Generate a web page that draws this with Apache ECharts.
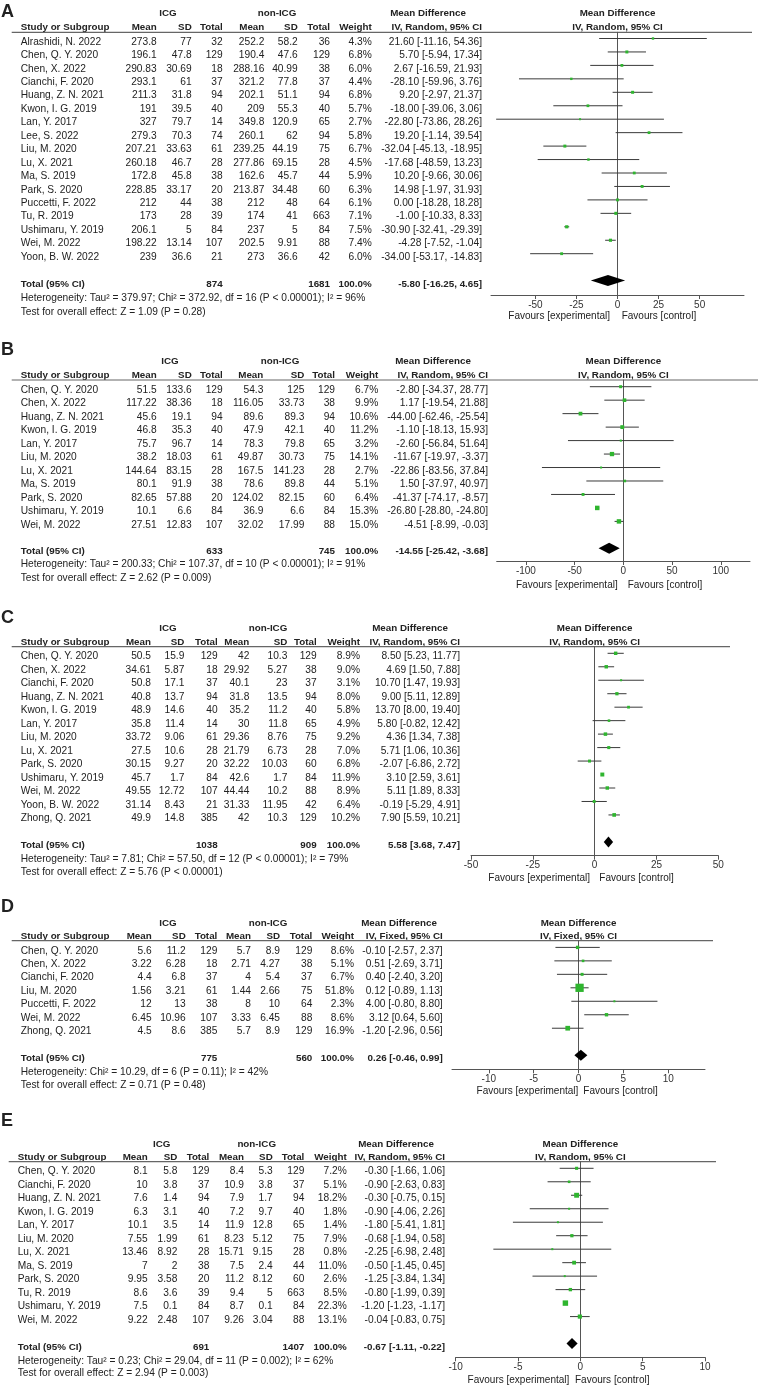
<!DOCTYPE html>
<html>
<head>
<meta charset="utf-8">
<script src="https://cdn.jsdelivr.net/npm/echarts@6/dist/echarts.min.js"></script>
<style>
  html, body { margin: 0; padding: 0; background: #fff; }
  #chart { width: 760px; height: 1386px; }
</style>
</head>
<body>
<div id="chart"></div>
<script>
// ---- A: operative time ----
const aStudy = ["Alrashidi, N. 2022", "Chen, Q. Y. 2020", "Chen, X. 2022", "Cianchi, F. 2020", "Huang, Z. N. 2021", "Kwon, I. G. 2019", "Lan, Y. 2017", "Lee, S. 2022", "Liu, M. 2020", "Lu, X. 2021", "Ma, S. 2019", "Park, S. 2020", "Puccetti, F. 2022", "Tu, R. 2019", "Ushimaru, Y. 2019", "Wei, M. 2022", "Yoon, B. W. 2022"];
const aIcg = [[273.8, 77, 32], [196.1, 47.8, 129], [290.83, 30.69, 18], [293.1, 61, 37], [211.3, 31.8, 94], [191, 39.5, 40], [327, 79.7, 14], [279.3, 70.3, 74], [207.21, 33.63, 61], [260.18, 46.7, 28], [172.8, 45.8, 38], [228.85, 33.17, 20], [212, 44, 38], [173, 28, 39], [206.1, 5, 84], [198.22, 13.14, 107], [239, 36.6, 21]];
const aCtl = [[252.2, 58.2, 36], [190.4, 47.6, 129], [288.16, 40.99, 38], [321.2, 77.8, 37], [202.1, 51.1, 94], [209, 55.3, 40], [349.8, 120.9, 65], [260.1, 62, 94], [239.25, 44.19, 75], [277.86, 69.15, 28], [162.6, 45.7, 44], [213.87, 34.48, 60], [212, 48, 64], [174, 41, 663], [237, 5, 84], [202.5, 9.91, 88], [273, 36.6, 42]];
const aWeight = [4.3, 6.8, 6.0, 4.4, 6.8, 5.7, 2.7, 5.8, 6.7, 4.5, 5.9, 6.3, 6.1, 7.1, 7.5, 7.4, 6.0];
const aMD = [[21.60, -11.16, 54.36], [5.70, -5.94, 17.34], [2.67, -16.59, 21.93], [-28.10, -59.96, 3.76], [9.20, -2.97, 21.37], [-18.00, -39.06, 3.06], [-22.80, -73.86, 28.26], [19.20, -1.14, 39.54], [-32.04, -45.13, -18.95], [-17.68, -48.59, 13.23], [10.20, -9.66, 30.06], [14.98, -1.97, 31.93], [0.00, -18.28, 18.28], [-1.00, -10.33, 8.33], [-30.90, -32.41, -29.39], [-4.28, -7.52, -1.04], [-34.00, -53.17, -14.83]];
const aTotalN = [874, 1681];
const aTotalMD = [-5.80, -16.25, 4.65];
const aHet = "Heterogeneity: Tau² = 379.97; Chi² = 372.92, df = 16 (P < 0.00001); I² = 96%";
const aTest = "Test for overall effect: Z = 1.09 (P = 0.28)";
const aTicks = [-50, -25, 0, 25, 50];
const aRange = [-77, 77];

// ---- B ----
const bStudy = ["Chen, Q. Y. 2020", "Chen, X. 2022", "Huang, Z. N. 2021", "Kwon, I. G. 2019", "Lan, Y. 2017", "Liu, M. 2020", "Lu, X. 2021", "Ma, S. 2019", "Park, S. 2020", "Ushimaru, Y. 2019", "Wei, M. 2022"];
const bIcg = [[51.5, 133.6, 129], [117.22, 38.36, 18], [45.6, 19.1, 94], [46.8, 35.3, 40], [75.7, 96.7, 14], [38.2, 18.03, 61], [144.64, 83.15, 28], [80.1, 91.9, 38], [82.65, 57.88, 20], [10.1, 6.6, 84], [27.51, 12.83, 107]];
const bCtl = [[54.3, 125, 129], [116.05, 33.73, 38], [89.6, 89.3, 94], [47.9, 42.1, 40], [78.3, 79.8, 65], [49.87, 30.73, 75], [167.5, 141.23, 28], [78.6, 89.8, 44], [124.02, 82.15, 60], [36.9, 6.6, 84], [32.02, 17.99, 88]];
const bWeight = [6.7, 9.9, 10.6, 11.2, 3.2, 14.1, 2.7, 5.1, 6.4, 15.3, 15.0];
const bMD = [[-2.80, -34.37, 28.77], [1.17, -19.54, 21.88], [-44.00, -62.46, -25.54], [-1.10, -18.13, 15.93], [-2.60, -56.84, 51.64], [-11.67, -19.97, -3.37], [-22.86, -83.56, 37.84], [1.50, -37.97, 40.97], [-41.37, -74.17, -8.57], [-26.80, -28.80, -24.80], [-4.51, -8.99, -0.03]];
const bTotalN = [633, 745];
const bTotalMD = [-14.55, -25.42, -3.68];
const bHet = "Heterogeneity: Tau² = 200.33; Chi² = 107.37, df = 10 (P < 0.00001); I² = 91%";
const bTest = "Test for overall effect: Z = 2.62 (P = 0.009)";
const bTicks = [-100, -50, 0, 50, 100];
const bRange = [-130, 130];

// ---- C ----
const cStudy = ["Chen, Q. Y. 2020", "Chen, X. 2022", "Cianchi, F. 2020", "Huang, Z. N. 2021", "Kwon, I. G. 2019", "Lan, Y. 2017", "Liu, M. 2020", "Lu, X. 2021", "Park, S. 2020", "Ushimaru, Y. 2019", "Wei, M. 2022", "Yoon, B. W. 2022", "Zhong, Q. 2021"];
const cIcg = [[50.5, 15.9, 129], [34.61, 5.87, 18], [50.8, 17.1, 37], [40.8, 13.7, 94], [48.9, 14.6, 40], [35.8, 11.4, 14], [33.72, 9.06, 61], [27.5, 10.6, 28], [30.15, 9.27, 20], [45.7, 1.7, 84], [49.55, 12.72, 107], [31.14, 8.43, 21], [49.9, 14.8, 385]];
const cCtl = [[42, 10.3, 129], [29.92, 5.27, 38], [40.1, 23, 37], [31.8, 13.5, 94], [35.2, 11.2, 40], [30, 11.8, 65], [29.36, 8.76, 75], [21.79, 6.73, 28], [32.22, 10.03, 60], [42.6, 1.7, 84], [44.44, 10.2, 88], [31.33, 11.95, 42], [42, 10.3, 129]];
const cWeight = [8.9, 9.0, 3.1, 8.0, 5.8, 4.9, 9.2, 7.0, 6.8, 11.9, 8.9, 6.4, 10.2];
const cMD = [[8.50, 5.23, 11.77], [4.69, 1.50, 7.88], [10.70, 1.47, 19.93], [9.00, 5.11, 12.89], [13.70, 8.00, 19.40], [5.80, -0.82, 12.42], [4.36, 1.34, 7.38], [5.71, 1.06, 10.36], [-2.07, -6.86, 2.72], [3.10, 2.59, 3.61], [5.11, 1.89, 8.33], [-0.19, -5.29, 4.91], [7.90, 5.59, 10.21]];
const cTotalN = [1038, 909];
const cTotalMD = [5.58, 3.68, 7.47];
const cHet = "Heterogeneity: Tau² = 7.81; Chi² = 57.50, df = 12 (P < 0.00001); I² = 79%";
const cTest = "Test for overall effect: Z = 5.76 (P < 0.00001)";
const cTicks = [-50, -25, 0, 25, 50];
const cRange = [-50, 50];

// ---- D ----
const dStudy = ["Chen, Q. Y. 2020", "Chen, X. 2022", "Cianchi, F. 2020", "Liu, M. 2020", "Puccetti, F. 2022", "Wei, M. 2022", "Zhong, Q. 2021"];
const dIcg = [[5.6, 11.2, 129], [3.22, 6.28, 18], [4.4, 6.8, 37], [1.56, 3.21, 61], [12, 13, 38], [6.45, 10.96, 107], [4.5, 8.6, 385]];
const dCtl = [[5.7, 8.9, 129], [2.71, 4.27, 38], [4, 5.4, 37], [1.44, 2.66, 75], [8, 10, 64], [3.33, 6.45, 88], [5.7, 8.9, 129]];
const dWeight = [8.6, 5.1, 6.7, 51.8, 2.3, 8.6, 16.9];
const dMD = [[-0.10, -2.57, 2.37], [0.51, -2.69, 3.71], [0.40, -2.40, 3.20], [0.12, -0.89, 1.13], [4.00, -0.80, 8.80], [3.12, 0.64, 5.60], [-1.20, -2.96, 0.56]];
const dTotalN = [775, 560];
const dTotalMD = [0.26, -0.46, 0.99];
const dHet = "Heterogeneity: Chi² = 10.29, df = 6 (P = 0.11); I² = 42%";
const dTest = "Test for overall effect: Z = 0.71 (P = 0.48)";
const dTicks = [-10, -5, 0, 5, 10];
const dRange = [-14.1, 14.1];

// ---- E ----
const eStudy = ["Chen, Q. Y. 2020", "Cianchi, F. 2020", "Huang, Z. N. 2021", "Kwon, I. G. 2019", "Lan, Y. 2017", "Liu, M. 2020", "Lu, X. 2021", "Ma, S. 2019", "Park, S. 2020", "Tu, R. 2019", "Ushimaru, Y. 2019", "Wei, M. 2022"];
const eIcg = [[8.1, 5.8, 129], [10, 3.8, 37], [7.6, 1.4, 94], [6.3, 3.1, 40], [10.1, 3.5, 14], [7.55, 1.99, 61], [13.46, 8.92, 28], [7, 2, 38], [9.95, 3.58, 20], [8.6, 3.6, 39], [7.5, 0.1, 84], [9.22, 2.48, 107]];
const eCtl = [[8.4, 5.3, 129], [10.9, 3.8, 37], [7.9, 1.7, 94], [7.2, 9.7, 40], [11.9, 12.8, 65], [8.23, 5.12, 75], [15.71, 9.15, 28], [7.5, 2.4, 44], [11.2, 8.12, 60], [9.4, 5, 663], [8.7, 0.1, 84], [9.26, 3.04, 88]];
const eWeight = [7.2, 5.1, 18.2, 1.8, 1.4, 7.9, 0.8, 11.0, 2.6, 8.5, 22.3, 13.1];
const eMD = [[-0.30, -1.66, 1.06], [-0.90, -2.63, 0.83], [-0.30, -0.75, 0.15], [-0.90, -4.06, 2.26], [-1.80, -5.41, 1.81], [-0.68, -1.94, 0.58], [-2.25, -6.98, 2.48], [-0.50, -1.45, 0.45], [-1.25, -3.84, 1.34], [-0.80, -1.99, 0.39], [-1.20, -1.23, -1.17], [-0.04, -0.83, 0.75]];
const eTotalN = [691, 1407];
const eTotalMD = [-0.67, -1.11, -0.22];
const eHet = "Heterogeneity: Tau² = 0.23; Chi² = 29.04, df = 11 (P = 0.002); I² = 62%";
const eTest = "Test for overall effect: Z = 2.94 (P = 0.003)";
const eTicks = [-10, -5, 0, 5, 10];
const eRange = [-10, 10];

// page layout (pixels) for each panel
const panels = [
  { key: "A", study: aStudy, icg: aIcg, ctl: aCtl, w: aWeight, md: aMD, totN: aTotalN, totMD: aTotalMD, het: aHet, test: aTest, ticks: aTicks, range: aRange, method: "IV, Random, 95% CI",
    label: 12, g1: 13, g2: 27, hy: 32.3, hx2: 752, L0: 38.5, rowH: 13.45, axisY: 295, gl: 491, gr: 744, favY: 316.7, favL: 610, favR: 621.7, hetY: 298.3, testY: 311.7, sx: 20.7,
    cols: [156.7, 191.7, 222.7, 264.3, 297.7, 330, 371.7, 482], icgC: 168, ctlC: 277, mdC: 428 },
  { key: "B", study: bStudy, icg: bIcg, ctl: bCtl, w: bWeight, md: bMD, totN: bTotalN, totMD: bTotalMD, het: bHet, test: bTest, ticks: bTicks, range: bRange, method: "IV, Random, 95% CI",
    label: 350, g1: 361.7, g2: 375, hy: 380, hx2: 758, L0: 386.7, rowH: 13.47, axisY: 561, gl: 496.7, gr: 750, favY: 585, favL: 617.7, favR: 627.7, hetY: 564.3, testY: 578.3, sx: 20.7,
    cols: [156.7, 191.7, 222.7, 263.3, 304.3, 335, 378.3, 488], icgC: 170, ctlC: 280, mdC: 433 },
  { key: "C", study: cStudy, icg: cIcg, ctl: cCtl, w: cWeight, md: cMD, totN: cTotalN, totMD: cTotalMD, het: cHet, test: cTest, ticks: cTicks, range: cRange, method: "IV, Random, 95% CI",
    label: 618, g1: 628.3, g2: 642.3, hy: 646.7, hx2: 730, L0: 653.3, rowH: 13.47, axisY: 855.7, gl: 471, gr: 718.3, favY: 878.3, favL: 590, favR: 599.3, hetY: 859, testY: 871.7, sx: 20.7,
    cols: [151, 184.3, 217.7, 249.3, 287.3, 316.7, 360, 460], icgC: 168, ctlC: 268, mdC: 410 },
  { key: "D", study: dStudy, icg: dIcg, ctl: dCtl, w: dWeight, md: dMD, totN: dTotalN, totMD: dTotalMD, het: dHet, test: dTest, ticks: dTicks, range: dRange, method: "IV, Fixed, 95% CI",
    label: 906.7, g1: 923.3, g2: 936.7, hy: 940.7, hx2: 713, L0: 947.4, rowH: 13.47, axisY: 1069.3, gl: 452, gr: 705, favY: 1091, favL: 578.3, favR: 583.3, hetY: 1072.3, testY: 1085, sx: 20.7,
    cols: [151.7, 185.7, 217.3, 251, 280, 312.3, 354, 442.7], icgC: 168, ctlC: 268, mdC: 399 },
  { key: "E", study: eStudy, icg: eIcg, ctl: eCtl, w: eWeight, md: eMD, totN: eTotalN, totMD: eTotalMD, het: eHet, test: eTest, ticks: eTicks, range: eRange, method: "IV, Random, 95% CI",
    label: 1121.5, g1: 1144, g2: 1157.3, hy: 1161.7, hx2: 716, L0: 1168.3, rowH: 13.48, axisY: 1357.3, gl: 455.7, gr: 705, favY: 1380, favL: 569.3, favR: 575, hetY: 1360.7, testY: 1373.3, sx: 17.7,
    cols: [147.7, 177.3, 209.3, 244, 272.7, 304.3, 346.7, 445], icgC: 161.7, ctlC: 256.7, mdC: 396 }
];

const FONT = '"Liberation Sans", Arial, sans-serif';
const TXT = "#222";
const GREEN = "#2fb52f";
const graphics = [];

function txt(x, y, s, align, bold, size) {
  graphics.push({
    type: "text", x: x, y: y, silent: true,
    style: {
      text: s, fill: TXT,
      font: (bold ? "bold " : "") + (size || 10.2) + "px " + FONT,
      textAlign: align || "left", align: align || "left",
      textVerticalAlign: "middle", verticalAlign: "middle"
    }
  });
}
function hline(x1, x2, y) {
  graphics.push({ type: "line", silent: true, shape: { x1: x1, y1: y, x2: x2, y2: y }, style: { stroke: "#666", lineWidth: 1.2 } });
}
const f2 = v => v.toFixed(2);
const ci = m => f2(m[0]) + " [" + f2(m[1]) + ", " + f2(m[2]) + "]";

const grids = [], xAxes = [], yAxes = [], series = [];

panels.forEach((p, k) => {
  const c = p.cols;
  // panel letter and headers
  txt(1, p.label, p.key, "left", true, 18);
  txt(p.icgC, p.g1, "ICG", "center", true, 9.8);
  txt(p.ctlC, p.g1, "non-ICG", "center", true, 9.8);
  txt(p.mdC, p.g1, "Mean Difference", "center", true, 9.8);
  txt(p.sx, p.g2, "Study or Subgroup", "left", true, 9.8);
  ["Mean", "SD", "Total", "Mean", "SD", "Total", "Weight", p.method].forEach((h, j) => txt(c[j], p.g2, h, "right", true, 9.8));
  const pc = (p.gl + p.gr) / 2;
  txt(pc, p.g1, "Mean Difference", "center", true, 9.8);
  txt(pc, p.g2, p.method, "center", true, 9.8);
  hline(p.sx - 9, p.hx2, p.hy);

  // study rows
  p.study.forEach((s, i) => {
    const y = p.L0 + i * p.rowH + 3.3;
    txt(p.sx, y, s);
    const cells = [p.icg[i][0], p.icg[i][1], p.icg[i][2], p.ctl[i][0], p.ctl[i][1], p.ctl[i][2]].map(String);
    cells.push(p.w[i].toFixed(1) + "%", ci(p.md[i]));
    cells.forEach((v, j) => txt(c[j], y, v, "right"));
  });
  const totRow = p.study.length + 1;
  const ty = p.L0 + totRow * p.rowH + 3.3;
  txt(p.sx, ty, "Total (95% CI)", "left", true, 9.8);
  txt(c[2], ty, String(p.totN[0]), "right", true, 9.8);
  txt(c[5], ty, String(p.totN[1]), "right", true, 9.8);
  txt(c[6], ty, "100.0%", "right", true, 9.8);
  txt(c[7], ty, ci(p.totMD), "right", true, 9.8);
  txt(p.sx, p.hetY, p.het);
  txt(p.sx, p.testY, p.test);
  txt(p.favL, p.favY, "Favours [experimental]", "right", false, 10);
  txt(p.favR, p.favY, "Favours [control]", "left", false, 10);

  // plot grid: rows are y values, y axis inverted
  grids.push({ left: p.gl, top: p.hy, width: p.gr - p.gl, height: p.axisY - p.hy });
  xAxes.push({
    type: "value", gridIndex: k, min: p.range[0], max: p.range[1], position: "bottom",
    axisLine: { onZero: false, lineStyle: { color: "#555", width: 1 } },
    axisTick: { show: true, length: 4, customValues: p.ticks, lineStyle: { color: "#555" } },
    axisLabel: { customValues: p.ticks, margin: 5, color: "#333", fontSize: 10, fontFamily: FONT },
    splitLine: { show: false }
  });
  yAxes.push({
    type: "value", gridIndex: k, inverse: true,
    min: (p.hy - p.L0) / p.rowH, max: (p.axisY - p.L0) / p.rowH,
    axisLine: { show: true, onZero: true, lineStyle: { color: "#555", width: 1 } },
    axisTick: { show: false }, axisLabel: { show: false }, splitLine: { show: false }
  });

  series.push({
    type: "custom", xAxisIndex: k, yAxisIndex: k, silent: true, z: 2,
    data: p.md.map((m, i) => [m[1], m[2], i]),
    encode: { x: [0, 1], y: 2 },
    renderItem: (params, api) => {
      const a = api.coord([api.value(0), api.value(2)]);
      const b = api.coord([api.value(1), api.value(2)]);
      return { type: "line", shape: { x1: a[0], y1: a[1], x2: b[0], y2: b[1] }, style: { stroke: "#3a3a3a", lineWidth: 1 } };
    }
  });
  series.push({
    type: "scatter", xAxisIndex: k, yAxisIndex: k, silent: true, z: 3,
    symbol: "rect",
    symbolSize: v => Math.max(2, 1.15 * Math.sqrt(v[2])),
    itemStyle: { color: GREEN, opacity: 1 },
    data: p.md.map((m, i) => [m[0], i, p.w[i]])
  });
  series.push({
    type: "custom", xAxisIndex: k, yAxisIndex: k, silent: true, z: 3,
    data: [[p.totMD[0], p.totMD[1], p.totMD[2], totRow]],
    encode: { x: [0, 1, 2], y: 3 },
    renderItem: (params, api) => {
      const m = api.coord([api.value(0), api.value(3)]);
      const l = api.coord([api.value(1), api.value(3)]);
      const r = api.coord([api.value(2), api.value(3)]);
      const h = 5.5;
      return { type: "polygon", shape: { points: [[l[0], m[1]], [m[0], m[1] - h], [r[0], m[1]], [m[0], m[1] + h]] }, style: { fill: "#000" } };
    }
  });
});

const chart = echarts.init(document.getElementById("chart"));
chart.setOption({
  animation: false,
  backgroundColor: "#fff",
  grid: grids,
  xAxis: xAxes,
  yAxis: yAxes,
  series: series,
  graphic: graphics
});
window.addEventListener("resize", () => chart.resize());
</script>
</body>
</html>
